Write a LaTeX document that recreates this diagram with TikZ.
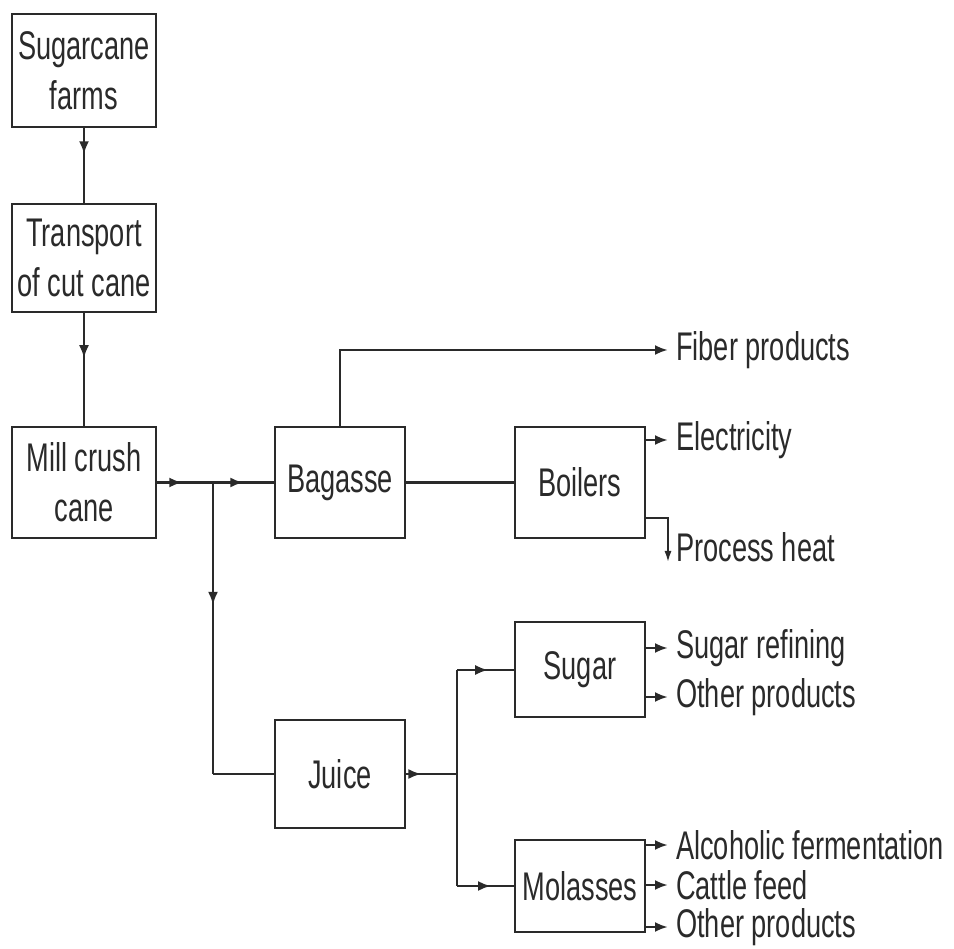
\documentclass[tikz,border=0pt]{standalone}
\usepackage{fontspec}
\setmainfont{Liberation Sans}[FakeStretch=0.68]
\usetikzlibrary{arrows.meta,decorations.markings}
\definecolor{ink}{HTML}{2A2A2A}
\begin{document}
\begin{tikzpicture}[x=1pt,y=1pt,
  every node/.style={text=ink,font=\fontsize{40}{50}\selectfont},
  boxnode/.style={draw=ink,line width=2.4pt,align=center,inner sep=0pt},
  lbl/.style={anchor=west,inner sep=0pt},
  conn/.style={draw=ink,line width=2.8pt},
  tipped/.style={conn,-{Latex[length=13pt,width=10pt]}},
  tolbl/.style={tipped,shorten >=8pt},
  midarrow/.style={conn,postaction={decorate},decoration={markings,mark=at position #1 with {\arrow{Latex[length=13pt,width=10pt]}}}}
]
\useasboundingbox (0,0) rectangle (954,-949);
% boxes
\node[boxnode,minimum width=144,minimum height=113] (farms) at (84,-70.5) {Sugarcane\\farms};
\node[boxnode,minimum width=144,minimum height=108] (transport) at (84,-258) {Transport\\of cut cane};
\node[boxnode,minimum width=144,minimum height=111] (mill) at (84,-482.5) {Mill crush\\cane};
\node[boxnode,minimum width=130,minimum height=111] (bagasse) at (340,-482.5) {Bagasse};
\node[boxnode,minimum width=130,minimum height=111] (boilers) at (580,-482.5) {Boilers};
\node[boxnode,minimum width=130,minimum height=108] (juice) at (340,-774) {Juice};
\node[boxnode,minimum width=130,minimum height=95] (sugar) at (580,-669.5) {Sugar};
\node[boxnode,minimum width=130,minimum height=92] (molasses) at (580,-886) {Molasses};
% labels
\node[lbl] (fiber) at (676,-350) {Fiber products};
\node[lbl] (elec) at (676,-440) {Electricity};
\node[lbl] (heat) at (676,-547) {Process heat};
\node[lbl] (refine) at (676,-648) {Sugar refining};
\node[lbl] (other1) at (676,-697) {Other products};
\node[lbl] (alc) at (676,-845) {Alcoholic fermentation};
\node[lbl] (cattle) at (676,-885) {Cattle feed};
\node[lbl] (other2) at (676,-927) {Other products};
% junctions
\coordinate (j1) at (213,-482.5);
\coordinate (j1b) at (213,-774);
\coordinate (j2) at (457,-774);
\coordinate (j2t) at (457,-670);
\coordinate (j2b) at (457,-886);
\coordinate (bt) at (340,-350);
\coordinate (hc) at (668,-518);
\coordinate (hd) at (668,-563);
% connectors
\path[midarrow=0.35] (farms.south) -- (transport.north);
\path[midarrow=0.4] (transport.south) -- (mill.north);
\path[midarrow=0.45] (mill.east) -- (j1);
\path[midarrow=0.5] (j1) -- (bagasse.west);
\path[midarrow=0.42] (j1) -- (j1b);
\path[conn] (j1b) -- (juice.west);
\path[tolbl] (bagasse.north) -- (bt) -- (fiber.west);
\path[conn] (bagasse.east) -- (boilers.west);
\path[tolbl] (boilers.east |- elec.west) -- (elec.west);
\path[conn,-{Latex[length=12pt,width=7pt]}] (boilers.east |- hc) -- (hc) -- (hd);
\path[midarrow=0.3] (juice.east) -- (j2);
\path[conn] (j2t) -- (j2b);
\path[midarrow=0.55] (j2t) -- (sugar.west |- j2t);
\path[midarrow=0.6] (j2b) -- (molasses.west |- j2b);
\path[tolbl] (sugar.east |- refine.west) -- (refine.west);
\path[tolbl] (sugar.east |- other1.west) -- (other1.west);
\path[tolbl] (molasses.east |- alc.west) -- (alc.west);
\path[tolbl] (molasses.east |- cattle.west) -- (cattle.west);
\path[tolbl] (molasses.east |- other2.west) -- (other2.west);
\end{tikzpicture}
\end{document}
